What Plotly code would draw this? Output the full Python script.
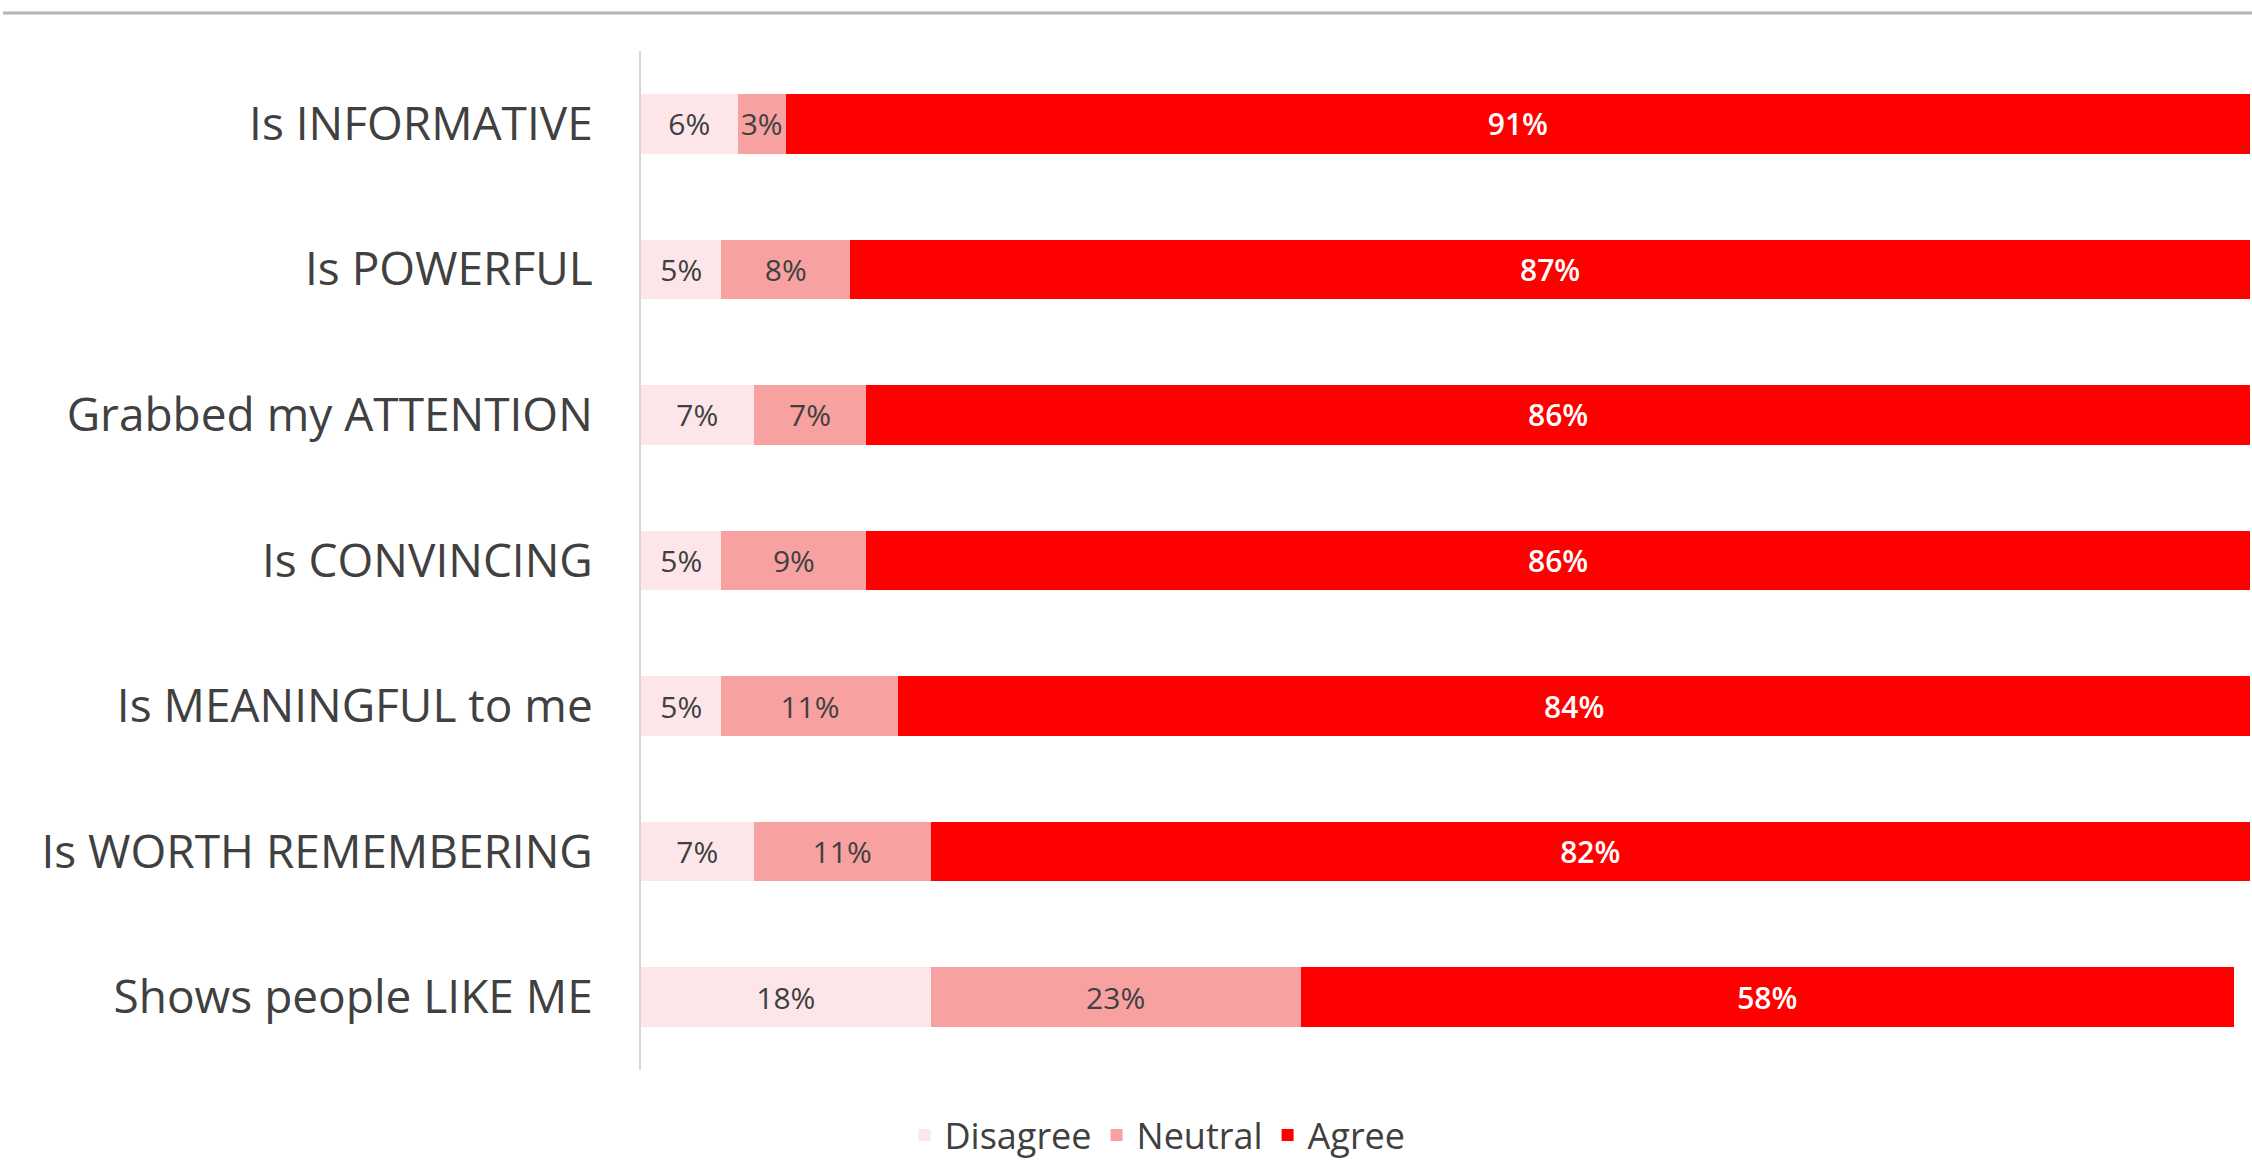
import plotly.graph_objects as go

# Survey statements, top to bottom
statements = [
    "Is INFORMATIVE",
    "Is POWERFUL",
    "Grabbed my ATTENTION",
    "Is CONVINCING",
    "Is MEANINGFUL to me",
    "Is WORTH REMEMBERING",
    "Shows people LIKE ME",
]

# Share of respondents (%) per answer
disagree = [6, 5, 7, 5, 5, 7, 18]
neutral = [3, 8, 7, 9, 11, 11, 23]
agree = [91, 87, 86, 86, 84, 82, 58]

FONT = "Open Sans"
DARK = "#404040"

series = [
    ("Disagree", disagree, "#FCE6E9", DARK),
    ("Neutral", neutral, "#F7A1A1", DARK),
    ("Agree", agree, "#FF0000", "#FFFFFF"),
]

fig = go.Figure()
for name, vals, color, txtcolor in series:
    fig.add_trace(go.Bar(
        name=name,
        y=statements,
        x=vals,
        orientation="h",
        marker=dict(color=color, line=dict(width=0)),
        text=[f"{v}%" for v in vals],
        textposition="inside",
        insidetextanchor="middle",
        textangle=0,
        constraintext="none",
        textfont=dict(family=FONT, size=30, color=txtcolor,
                      weight=600 if name == "Agree" else 400),
        hoverinfo="skip",
    ))

# Thin grey rule across the top of the page
fig.add_shape(type="line", xref="paper", yref="paper",
              x0=-0.3965, x1=1.002, y0=1.0373, y1=1.0373,
              line=dict(color="#B4B4B4", width=3))

fig.update_layout(
    width=2252,
    height=1165,
    barmode="stack",
    bargap=0.59,
    plot_bgcolor="white",
    paper_bgcolor="white",
    margin=dict(l=641, r=2, t=51, b=95, autoexpand=False),
    font=dict(family=FONT, color=DARK),
    uniformtext=dict(minsize=30, mode="show"),
    legend=dict(
        orientation="h",
        x=0.321, xanchor="center",
        y=-0.064, yanchor="middle",
        font=dict(family=FONT, size=36, color=DARK),
        itemwidth=30,
        traceorder="normal",
    ),
    xaxis=dict(
        range=[0, 100],
        showgrid=False,
        zeroline=False,
        showticklabels=False,
        showline=False,
        fixedrange=True,
    ),
    yaxis=dict(
        categoryorder="array",
        categoryarray=statements,
        autorange="reversed",
        showgrid=False,
        zeroline=False,
        showline=True,
        linecolor="#D6D6D6",
        linewidth=2,
        ticks="",
        ticklabelstandoff=37,
        tickfont=dict(family=FONT, size=46, color=DARK),
    ),
)

fig.write_html("out.html")
